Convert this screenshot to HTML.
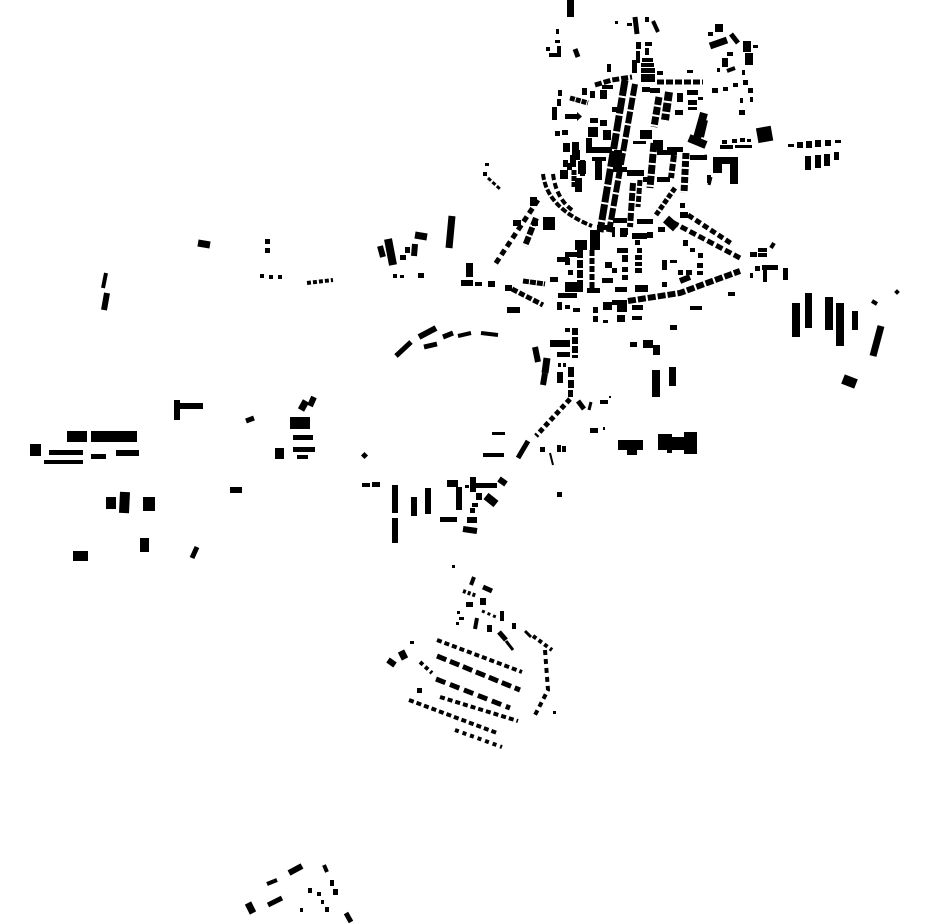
<!DOCTYPE html>
<html>
<head>
<meta charset="utf-8">
<style>
html,body{margin:0;padding:0;background:#fff;}
svg{display:block;}
svg rect, svg polygon{fill:#000;}
svg line, svg path{stroke:#000;fill:none;stroke-linecap:butt;}
</style>
</head>
<body>
<svg width="930" height="924" viewBox="0 0 930 924" xmlns="http://www.w3.org/2000/svg">
<!-- North -->
<rect x="567" y="0" width="7" height="17"/>
<rect x="615" y="21" width="3" height="3"/>
<rect x="627" y="23" width="5" height="3"/>
<line x1="635" y1="17" x2="637" y2="34" stroke-width="5"/>
<rect x="645" y="17" width="4" height="5"/>
<line x1="653" y1="21" x2="658" y2="32" stroke-width="4"/>
<rect x="556" y="29" width="3" height="5"/>
<rect x="555" y="40" width="5" height="3"/>
<rect x="546" y="47" width="4" height="4"/>
<rect x="557" y="46" width="4" height="11"/>
<rect x="549" y="53" width="12" height="4"/>
<line x1="575" y1="49" x2="578" y2="57" stroke-width="5"/>
<rect x="636" y="42" width="5" height="7"/>
<rect x="645" y="42" width="7" height="4"/>
<rect x="636" y="51" width="4" height="12"/>
<rect x="645" y="48" width="4" height="7"/>
<rect x="642" y="58" width="11" height="4"/>
<rect x="641" y="63" width="13" height="4"/>
<rect x="641" y="68" width="14" height="5"/>
<rect x="641" y="74" width="14" height="8"/>
<rect x="607" y="64" width="4" height="8"/>
<rect x="632" y="60" width="5" height="13"/>

<!-- NE -->
<rect x="715" y="24" width="8" height="8"/>
<rect x="708" y="32" width="5" height="4"/>
<line x1="710" y1="46" x2="727" y2="40" stroke-width="7"/>
<line x1="731" y1="34" x2="738" y2="43" stroke-width="5"/>
<rect x="743" y="41" width="8" height="11"/>
<rect x="753" y="45" width="5" height="3"/>
<rect x="745" y="53" width="8" height="12"/>
<rect x="727" y="52" width="6" height="4"/>
<rect x="722" y="58" width="6" height="9"/>
<line x1="727" y1="71" x2="735" y2="68" stroke-width="4"/>
<rect x="717" y="68" width="3" height="4"/>
<rect x="742" y="70" width="3" height="5"/>
<rect x="743" y="80" width="5" height="5"/>
<rect x="748" y="88" width="5" height="5"/>
<rect x="740" y="98" width="3" height="5"/>
<rect x="750" y="97" width="3" height="5"/>
<rect x="739" y="110" width="6" height="5"/>
<rect x="712" y="88" width="6" height="5"/>
<rect x="723" y="87" width="5" height="4"/>
<rect x="733" y="83" width="5" height="4"/>

<!-- Center north rows -->
<path d="M595,85 L612,80 L632,77" stroke-width="5" stroke-dasharray="7 2"/>
<rect x="657" y="71" width="6" height="4"/>
<rect x="687" y="70" width="6" height="3"/>
<path d="M657,82 L703,82" stroke-width="5" stroke-dasharray="7 2"/>
<rect x="582" y="88" width="5" height="7"/>
<rect x="590" y="91" width="5" height="7"/>
<rect x="600" y="90" width="7" height="9"/>
<rect x="602" y="85" width="11" height="4"/>
<path d="M570,98 L588,103" stroke-width="5" stroke-dasharray="5 1"/>
<rect x="558" y="90" width="4" height="6"/>
<rect x="557" y="99" width="4" height="7"/>
<rect x="552" y="107" width="5" height="13"/>
<rect x="565" y="114" width="12" height="5"/>
<polygon points="577,112 582,116.5 577,121"/>
<rect x="612" y="107" width="10" height="5"/>

<!-- Main street -->
<path d="M625,80 L600,232" stroke-width="7" stroke-dasharray="16 2"/>
<path d="M635,84 L609,232" stroke-width="6" stroke-dasharray="12 2"/>

<!-- East of main street -->
<rect x="642" y="87" width="8" height="5"/>
<rect x="650" y="88" width="10" height="5"/>
<path d="M659,97 L654,127" stroke-width="7" stroke-dasharray="8 2"/>
<path d="M669,92 L665,120" stroke-width="8" stroke-dasharray="9 2"/>
<rect x="675" y="110" width="8" height="5"/>
<rect x="677" y="93" width="6" height="9"/>
<rect x="687" y="90" width="11" height="5"/>
<rect x="688" y="100" width="9" height="5"/>
<rect x="688" y="107" width="9" height="3"/>
<rect x="698" y="97" width="5" height="3"/>
<line x1="704" y1="113" x2="697" y2="138" stroke-width="8"/>
<line x1="689" y1="138" x2="706" y2="145" stroke-width="8"/>

<!-- West of main street -->
<rect x="590" y="118" width="8" height="5"/>
<rect x="600" y="120" width="7" height="6"/>
<rect x="588" y="127" width="10" height="10"/>
<rect x="586" y="138" width="6" height="15"/>
<rect x="586" y="147" width="26" height="6"/>
<rect x="603" y="130" width="8" height="10"/>
<rect x="640" y="130" width="12" height="9"/>
<rect x="633" y="141" width="13" height="3"/>
<rect x="653" y="140" width="10" height="10"/>
<rect x="667" y="147" width="16" height="5"/>
<rect x="555" y="131" width="5" height="5"/>
<rect x="562" y="130" width="6" height="5"/>
<rect x="563" y="143" width="7" height="9"/>
<rect x="572" y="142" width="7" height="12"/>
<rect x="570" y="155" width="6" height="12"/>
<rect x="563" y="160" width="5" height="7"/>
<rect x="580" y="160" width="5" height="16"/>
<rect x="560" y="170" width="8" height="9"/>
<rect x="595" y="158" width="7" height="22"/>
<rect x="592" y="157" width="14" height="4"/>
<rect x="614" y="150" width="8" height="18"/>
<rect x="613" y="167" width="14" height="5"/>
<rect x="627" y="170" width="17" height="6"/>
<path d="M633,183 L630,227" stroke-width="6" stroke-dasharray="8 2"/>
<path d="M640,180 L638,207" stroke-width="5" stroke-dasharray="6 2"/>
<path d="M654,143 L650,188" stroke-width="7" stroke-dasharray="9 2"/>
<rect x="657" y="150" width="20" height="5"/>
<path d="M674,155 L671,178" stroke-width="6" stroke-dasharray="7 2"/>
<rect x="643" y="177" width="10" height="5"/>
<rect x="657" y="177" width="13" height="5"/>
<path d="M675,188 L656,215" stroke-width="5" stroke-dasharray="5 2"/>
<path d="M686,153 L684,193" stroke-width="7" stroke-dasharray="6 2"/>
<rect x="690" y="155" width="17" height="5"/>
<rect x="707" y="175" width="4" height="8"/>
<rect x="613" y="218" width="14" height="5"/>
<rect x="637" y="219" width="16" height="5"/>
<rect x="623" y="228" width="5" height="7"/>
<rect x="632" y="233" width="15" height="6"/>
<rect x="647" y="232" width="6" height="6"/>
<rect x="658" y="227" width="7" height="5"/>
<line x1="666" y1="219" x2="676" y2="228" stroke-width="9"/>
<rect x="680" y="203" width="5" height="5"/>
<rect x="680" y="212" width="8" height="6"/>

<!-- West arc -->
<path d="M543,174 Q547,208 592,226" stroke-width="4" stroke-dasharray="6 2"/>
<path d="M553,174 Q556,198 572,210" stroke-width="4" stroke-dasharray="6 3"/>
<rect x="567" y="163" width="5" height="7"/>
<path d="M574,170 L574,188" stroke-width="5" stroke-dasharray="5 1"/>
<rect x="572" y="150" width="8" height="10"/>
<rect x="578" y="161" width="8" height="13"/>
<rect x="575" y="178" width="7" height="14"/>
<rect x="543" y="217" width="12" height="13"/>
<rect x="530" y="197" width="7" height="9"/>
<path d="M538,200 L494,266" stroke-width="5" stroke-dasharray="6 4"/>
<path d="M536,218 L525,246" stroke-width="6" stroke-dasharray="8 2"/>
<rect x="513" y="220" width="8" height="6"/>
<rect x="532" y="220" width="6" height="6"/>
<rect x="485" y="163" width="4" height="3"/>
<rect x="483" y="172" width="4" height="4"/>
<path d="M488,178 L500,189" stroke-width="3" stroke-dasharray="4 2"/>

<!-- Below center -->
<rect x="575" y="240" width="12" height="10"/>
<path d="M580,250 L580,287" stroke-width="6" stroke-dasharray="8 2"/>
<rect x="565" y="252" width="12" height="5"/>
<rect x="557" y="257" width="12" height="5"/>
<rect x="565" y="258" width="5" height="7"/>
<rect x="568" y="270" width="5" height="5"/>
<rect x="565" y="282" width="18" height="10"/>
<rect x="558" y="293" width="19" height="5"/>
<rect x="590" y="230" width="10" height="20"/>
<path d="M592,250 L592,293" stroke-width="5" stroke-dasharray="6 2"/>
<rect x="587" y="288" width="13" height="5"/>
<rect x="597" y="225" width="16" height="5"/>
<rect x="612" y="227" width="3" height="10"/>
<rect x="620" y="228" width="7" height="9"/>
<rect x="635" y="240" width="5" height="5"/>
<rect x="617" y="248" width="11" height="5"/>
<rect x="622" y="255" width="6" height="7"/>
<rect x="637" y="248" width="5" height="5"/>
<rect x="635" y="255" width="7" height="5"/>
<rect x="635" y="262" width="7" height="4"/>
<rect x="635" y="268" width="7" height="5"/>
<rect x="605" y="262" width="7" height="6"/>
<rect x="612" y="268" width="5" height="5"/>
<rect x="622" y="267" width="6" height="5"/>
<rect x="622" y="275" width="6" height="5"/>
<rect x="602" y="278" width="11" height="5"/>
<rect x="615" y="287" width="12" height="5"/>
<rect x="635" y="285" width="13" height="7"/>
<path d="M628,301 L680,293 L707,283 L740,271" stroke-width="6" stroke-dasharray="8 2"/>
<rect x="603" y="302" width="9" height="8"/>
<rect x="612" y="300" width="5" height="5"/>
<rect x="617" y="300" width="10" height="12"/>
<rect x="632" y="305" width="11" height="5"/>
<rect x="617" y="315" width="8" height="7"/>
<rect x="632" y="316" width="10" height="4"/>
<rect x="593" y="307" width="5" height="6"/>
<rect x="593" y="316" width="5" height="6"/>
<rect x="603" y="320" width="5" height="3"/>
<rect x="690" y="306" width="12" height="4"/>
<rect x="670" y="325" width="7" height="5"/>
<rect x="728" y="292" width="7" height="4"/>
<rect x="662" y="260" width="5" height="10"/>
<rect x="670" y="260" width="7" height="3"/>
<rect x="678" y="270" width="5" height="5"/>
<line x1="680" y1="281" x2="690" y2="277" stroke-width="6"/>
<rect x="686" y="270" width="6" height="5"/>
<rect x="697" y="263" width="6" height="5"/>
<rect x="697" y="271" width="6" height="4"/>
<rect x="662" y="282" width="5" height="5"/>

<!-- SE diagonal rows -->
<path d="M672,222 L740,258" stroke-width="5" stroke-dasharray="7 3"/>
<path d="M688,215 L732,244" stroke-width="5" stroke-dasharray="6 3"/>
<rect x="683" y="240" width="5" height="6"/>
<rect x="690" y="248" width="5" height="4"/>
<rect x="698" y="253" width="5" height="5"/>

<!-- Right cluster near 760,260 -->
<rect x="750" y="252" width="7" height="5"/>
<rect x="758" y="248" width="9" height="4"/>
<rect x="758" y="253" width="9" height="4"/>
<line x1="771" y1="248" x2="774" y2="243" stroke-width="4"/>
<rect x="755" y="266" width="5" height="5"/>
<rect x="762" y="265" width="16" height="5"/>
<rect x="763" y="270" width="4" height="12"/>
<rect x="783" y="268" width="5" height="12"/>
<rect x="750" y="273" width="3" height="5"/>

<!-- Row left of center -->
<rect x="466" y="263" width="7" height="14"/>
<rect x="461" y="280" width="12" height="6"/>
<rect x="475" y="282" width="7" height="4"/>
<rect x="488" y="281" width="7" height="6"/>
<rect x="505" y="285" width="7" height="6"/>
<path d="M512,289 L543,305" stroke-width="5" stroke-dasharray="6 2"/>
<path d="M523,281 L545,284" stroke-width="5" stroke-dasharray="6 1"/>
<rect x="507" y="307" width="13" height="6"/>
<rect x="550" y="277" width="8" height="5"/>
<rect x="557" y="302" width="5" height="8"/>
<rect x="565" y="305" width="5" height="4"/>
<rect x="573" y="308" width="7" height="4"/>

<!-- Lower arc -->
<line x1="396" y1="356" x2="411" y2="342" stroke-width="5"/>
<line x1="419" y1="337" x2="436" y2="328" stroke-width="6"/>
<line x1="424" y1="347" x2="437" y2="344" stroke-width="5"/>
<line x1="443" y1="337" x2="453" y2="333" stroke-width="5"/>
<line x1="458" y1="336" x2="471" y2="333" stroke-width="4"/>
<line x1="481" y1="333" x2="498" y2="335" stroke-width="4"/>

<!-- Column south of center -->
<rect x="565" y="328" width="5" height="4"/>
<path d="M575,328 L575,358" stroke-width="6" stroke-dasharray="7 2"/>
<line x1="535" y1="347" x2="538" y2="362" stroke-width="6"/>
<line x1="547" y1="358" x2="545" y2="373" stroke-width="7"/>
<line x1="545" y1="373" x2="543" y2="385" stroke-width="6"/>
<rect x="550" y="340" width="20" height="7"/>
<rect x="557" y="352" width="13" height="5"/>
<rect x="558" y="363" width="3" height="4"/>
<rect x="563" y="363" width="3" height="4"/>
<rect x="568" y="367" width="6" height="10"/>
<rect x="557" y="372" width="6" height="11"/>
<rect x="568" y="380" width="6" height="8"/>
<rect x="568" y="390" width="5" height="7"/>
<path d="M570,399 L536,436" stroke-width="5" stroke-dasharray="5 3"/>
<line x1="578" y1="401" x2="584" y2="409" stroke-width="5"/>
<line x1="591" y1="402" x2="589" y2="410" stroke-width="3"/>
<rect x="600" y="400" width="8" height="4"/>
<rect x="609" y="396" width="2" height="2"/>
<rect x="590" y="428" width="8" height="5"/>
<rect x="603" y="427" width="2" height="3"/>
<rect x="492" y="432" width="13" height="3"/>
<rect x="483" y="453" width="21" height="4"/>
<line x1="528" y1="441" x2="518" y2="458" stroke-width="5"/>
<rect x="540" y="447" width="5" height="5"/>
<line x1="550" y1="453" x2="553" y2="465" stroke-width="2"/>
<rect x="557" y="445" width="4" height="7"/>
<rect x="562" y="446" width="4" height="6"/>
<rect x="618" y="440" width="25" height="10"/>
<rect x="627" y="446" width="10" height="9"/>
<rect x="658" y="434" width="14" height="16"/>
<rect x="670" y="437" width="16" height="13"/>
<rect x="684" y="432" width="13" height="22"/>
<rect x="667" y="447" width="5" height="6"/>
<rect x="652" y="370" width="8" height="27"/>
<rect x="669" y="367" width="7" height="19"/>
<rect x="630" y="342" width="7" height="5"/>
<rect x="643" y="340" width="10" height="8"/>
<rect x="653" y="345" width="7" height="10"/>
<rect x="557" y="492" width="5" height="5"/>

<!-- West-middle cluster -->
<rect x="362" y="453" width="5" height="5" transform="rotate(45 364.5 455.5)"/>
<rect x="362" y="483" width="8" height="4"/>
<rect x="372" y="482" width="8" height="5"/>
<rect x="392" y="485" width="6" height="28"/>
<rect x="392" y="518" width="6" height="25"/>
<rect x="411" y="497" width="6" height="19"/>
<rect x="425" y="488" width="6" height="26"/>
<rect x="447" y="480" width="11" height="7"/>
<rect x="456" y="487" width="6" height="23"/>
<rect x="440" y="517" width="17" height="5"/>
<rect x="465" y="485" width="4" height="3"/>
<rect x="470" y="477" width="6" height="15"/>
<rect x="475" y="483" width="22" height="5"/>
<line x1="499" y1="479" x2="506" y2="484" stroke-width="6"/>
<rect x="476" y="493" width="6" height="7"/>
<line x1="486" y1="496" x2="496" y2="504" stroke-width="8"/>
<rect x="472" y="503" width="6" height="4"/>
<rect x="470" y="508" width="5" height="5"/>
<rect x="467" y="517" width="10" height="6"/>
<line x1="463" y1="529" x2="477" y2="531" stroke-width="6"/>

<!-- Middle-left -->
<line x1="380" y1="246" x2="383" y2="257" stroke-width="6"/>
<line x1="388" y1="239" x2="393" y2="265" stroke-width="8"/>
<rect x="400" y="255" width="6" height="5"/>
<rect x="405" y="247" width="5" height="6"/>
<line x1="415" y1="244" x2="414" y2="256" stroke-width="6"/>
<line x1="415" y1="235" x2="427" y2="237" stroke-width="7"/>
<line x1="452" y1="216" x2="449" y2="248" stroke-width="7"/>
<rect x="393" y="274" width="4" height="4"/>
<rect x="400" y="275" width="4" height="3"/>
<rect x="418" y="273" width="6" height="5"/>

<!-- Left region -->
<line x1="198" y1="243" x2="210" y2="245" stroke-width="7"/>
<rect x="265" y="239" width="5" height="5"/>
<rect x="265" y="248" width="5" height="5"/>
<rect x="260" y="274" width="4" height="4"/>
<rect x="269" y="275" width="4" height="4"/>
<rect x="278" y="275" width="4" height="4"/>
<path d="M307,283 L333,280" stroke-width="4" stroke-dasharray="4 2"/>
<line x1="106" y1="273" x2="103" y2="288" stroke-width="4"/>
<line x1="107" y1="293" x2="104" y2="310" stroke-width="6"/>
<rect x="174" y="400" width="6" height="20"/>
<rect x="180" y="403" width="23" height="6"/>
<line x1="246" y1="421" x2="254" y2="418" stroke-width="5"/>
<line x1="306" y1="401" x2="301" y2="410" stroke-width="7"/>
<line x1="314" y1="397" x2="310" y2="406" stroke-width="6"/>
<rect x="290" y="417" width="20" height="12"/>
<rect x="293" y="435" width="20" height="5"/>
<rect x="293" y="447" width="22" height="5"/>
<rect x="297" y="455" width="11" height="4"/>
<rect x="275" y="448" width="9" height="11"/>
<rect x="67" y="431" width="20" height="11"/>
<rect x="91" y="431" width="46" height="11"/>
<rect x="30" y="444" width="11" height="12"/>
<rect x="49" y="450" width="34" height="5"/>
<rect x="44" y="460" width="39" height="4"/>
<rect x="91" y="454" width="15" height="5"/>
<rect x="116" y="450" width="23" height="6"/>
<rect x="230" y="487" width="12" height="6"/>
<rect x="106" y="497" width="10" height="12"/>
<line x1="125" y1="492" x2="124" y2="513" stroke-width="10"/>
<rect x="143" y="497" width="12" height="14"/>
<rect x="73" y="551" width="15" height="10"/>
<rect x="140" y="538" width="9" height="14"/>
<line x1="197" y1="547" x2="192" y2="558" stroke-width="5"/>

<!-- Right big bars -->
<rect x="792" y="303" width="8" height="34"/>
<rect x="805" y="293" width="7" height="35"/>
<rect x="825" y="297" width="8" height="33"/>
<rect x="836" y="303" width="8" height="43"/>
<rect x="852" y="311" width="6" height="19"/>
<line x1="881" y1="326" x2="873" y2="356" stroke-width="7"/>
<line x1="872" y1="301" x2="877" y2="304" stroke-width="4"/>
<rect x="895" y="290" width="4" height="4" transform="rotate(45 897 292)"/>
<line x1="843" y1="379" x2="856" y2="384" stroke-width="10"/>

<!-- NE buildings -->
<rect x="757" y="127" width="15" height="15" transform="rotate(-10 764 134)"/>
<rect x="722" y="140" width="5" height="4"/>
<rect x="732" y="139" width="5" height="4"/>
<rect x="740" y="138" width="5" height="4"/>
<rect x="747" y="139" width="4" height="3"/>
<rect x="720" y="145" width="13" height="4"/>
<rect x="735" y="145" width="17" height="3"/>
<rect x="713" y="157" width="25" height="7"/>
<rect x="713" y="157" width="9" height="16"/>
<rect x="730" y="157" width="8" height="27"/>
<line x1="707" y1="156" x2="700" y2="157" stroke-width="3"/>
<line x1="711" y1="177" x2="709" y2="185" stroke-width="3"/>
<line x1="705" y1="120" x2="701" y2="137" stroke-width="6"/>
<rect x="788" y="144" width="6" height="3"/>
<rect x="797" y="142" width="6" height="6"/>
<rect x="806" y="141" width="6" height="7"/>
<rect x="815" y="140" width="6" height="7"/>
<rect x="825" y="140" width="6" height="6"/>
<rect x="835" y="140" width="6" height="3"/>
<rect x="805" y="156" width="6" height="14"/>
<rect x="815" y="155" width="6" height="13"/>
<rect x="824" y="154" width="6" height="12"/>
<rect x="834" y="152" width="5" height="8"/>

<!-- Southern cluster -->
<rect x="452" y="565" width="3" height="3"/>
<line x1="474" y1="577" x2="471" y2="585" stroke-width="4"/>
<line x1="483" y1="587" x2="492" y2="591" stroke-width="5"/>
<path d="M463,591 L477,596" stroke-width="4" stroke-dasharray="3 2"/>
<rect x="480" y="598" width="6" height="7"/>
<rect x="466" y="602" width="7" height="5"/>
<rect x="457" y="611" width="3" height="3"/>
<rect x="459" y="617" width="5" height="3"/>
<rect x="456" y="622" width="3" height="3"/>
<line x1="477" y1="618" x2="475" y2="629" stroke-width="4"/>
<path d="M482,611 L496,617" stroke-width="3" stroke-dasharray="3 3"/>
<rect x="487" y="625" width="5" height="7"/>
<rect x="500" y="611" width="4" height="10"/>
<rect x="512" y="623" width="4" height="6"/>
<line x1="499" y1="632" x2="506" y2="640" stroke-width="5"/>
<line x1="525" y1="631" x2="531" y2="637" stroke-width="3"/>
<path d="M533,636 L552,650" stroke-width="4" stroke-dasharray="4 3"/>
<line x1="506" y1="641" x2="513" y2="650" stroke-width="3"/>
<path d="M437,640 L522,672" stroke-width="4" stroke-dasharray="5 3"/>
<path d="M437,656 L520,690" stroke-width="5" stroke-dasharray="10 4"/>
<path d="M436,679 L510,708" stroke-width="5" stroke-dasharray="10 5"/>
<path d="M440,697 L518,721" stroke-width="4" stroke-dasharray="5 3"/>
<path d="M409,700 L497,733" stroke-width="4" stroke-dasharray="5 3"/>
<path d="M455,730 L502,747" stroke-width="4" stroke-dasharray="4 4"/>
<line x1="388" y1="660" x2="395" y2="665" stroke-width="6"/>
<line x1="401" y1="651" x2="405" y2="659" stroke-width="7"/>
<rect x="410" y="641" width="4" height="3"/>
<path d="M420,662 L432,673" stroke-width="4" stroke-dasharray="4 3"/>
<rect x="417" y="688" width="5" height="5"/>
<path d="M545,650 L548,690 L535,715" stroke-width="4" stroke-dasharray="5 4"/>
<rect x="553" y="711" width="3" height="3"/>

<!-- Bottom -->
<line x1="248" y1="903" x2="253" y2="913" stroke-width="7"/>
<line x1="267" y1="884" x2="277" y2="880" stroke-width="4"/>
<line x1="268" y1="905" x2="282" y2="898" stroke-width="5"/>
<line x1="289" y1="873" x2="302" y2="866" stroke-width="6"/>
<line x1="324" y1="865" x2="327" y2="872" stroke-width="4"/>
<rect x="330" y="880" width="4" height="6"/>
<rect x="333" y="889" width="5" height="6"/>
<rect x="308" y="888" width="4" height="5"/>
<rect x="317" y="892" width="4" height="4"/>
<rect x="321" y="900" width="3" height="4"/>
<rect x="325" y="907" width="4" height="5"/>
<rect x="300" y="908" width="3" height="4"/>
<line x1="346" y1="913" x2="351" y2="922" stroke-width="5"/>
</svg>
</body>
</html>
